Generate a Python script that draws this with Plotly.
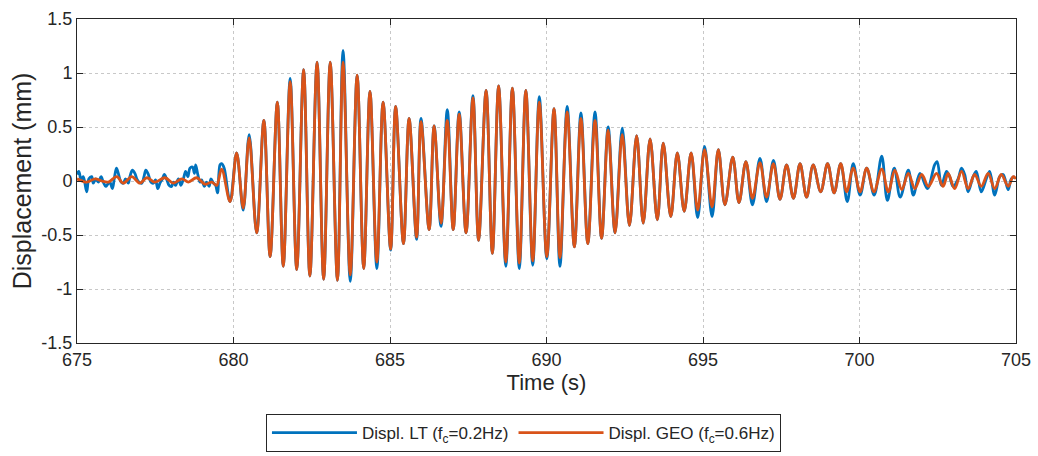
import plotly.graph_objects as go

# ---- Data (time in s, displacement in mm) ----
time_lt = [
    675.00, 675.06, 675.13, 675.20, 675.31, 675.38, 675.47, 675.52, 675.60, 675.68,
    675.77, 675.84, 675.92, 675.98, 676.05, 676.13, 676.19, 676.26, 676.32, 676.41,
    676.48, 676.55, 676.64, 676.69, 676.77, 676.85, 676.91, 676.98, 677.07, 677.14,
    677.20, 677.28, 677.36, 677.44, 677.51, 677.58, 677.65, 677.73, 677.79, 677.86,
    677.94, 678.02, 678.08, 678.15, 678.24, 678.32, 678.40, 678.47, 678.54, 678.61,
    678.69, 678.75, 678.79, 678.86, 678.93, 678.98, 679.07, 679.14, 679.22, 679.28,
    679.36, 679.43, 679.49, 679.57, 679.62, 679.70, 679.89, 680.10, 680.31, 680.50,
    680.74, 680.97, 681.17, 681.40, 681.59, 681.81, 682.02, 682.24, 682.44, 682.67,
    682.88, 683.09, 683.32, 683.50, 683.73, 683.95, 684.16, 684.36, 684.58, 684.78,
    685.02, 685.18, 685.43, 685.61, 685.85, 685.99, 686.25, 686.41, 686.63, 686.83,
    687.02, 687.21, 687.43, 687.65, 687.83, 688.07, 688.27, 688.47, 688.70, 688.91,
    689.13, 689.34, 689.56, 689.77, 690.01, 690.24, 690.43, 690.66, 690.89, 691.10,
    691.32, 691.55, 691.76, 691.97, 692.19, 692.42, 692.65, 692.88, 693.09, 693.31,
    693.54, 693.73, 693.97, 694.18, 694.40, 694.62, 694.83, 695.05, 695.29, 695.49,
    695.70, 695.95, 696.15, 696.37, 696.58, 696.82, 697.03, 697.25, 697.46, 697.67,
    697.89, 698.10, 698.31, 698.52, 698.76, 698.98, 699.19, 699.40, 699.61, 699.80,
    700.02, 700.23, 700.47, 700.71, 700.89, 701.11, 701.30, 701.56, 701.72, 701.93,
    702.17, 702.40, 702.48, 702.62, 702.78, 702.88, 702.99, 703.15, 703.26, 703.36,
    703.47, 703.63, 703.73, 703.89, 704.05, 704.16, 704.32, 704.48, 704.59, 704.75,
    704.85, 704.96,
]
displ_lt = [
    0.06, 0.09, 0.01, 0.04, -0.10, 0.02, 0.04, -0.02, 0.02, -0.01,
    0.04, -0.01, -0.05, -0.03, -0.01, -0.07, 0.02, 0.12, 0.07, -0.01,
    -0.02, 0.02, -0.02, 0.04, 0.10, 0.07, 0.02, -0.01, -0.02, 0.04,
    0.10, 0.06, -0.01, -0.02, 0.01, -0.07, -0.02, 0.02, 0.06, 0.02,
    -0.04, -0.05, -0.01, -0.04, 0.02, -0.04, 0.02, 0.09, 0.04, 0.12,
    0.13, 0.07, 0.15, 0.06, -0.01, 0.01, -0.05, -0.01, -0.05, 0.02,
    -0.02, -0.04, -0.11, 0.15, 0.16, 0.12, -0.19, 0.26, -0.27, 0.43,
    -0.48, 0.56, -0.70, 0.73, -0.79, 0.95, -0.82, 1.03, -0.88, 1.10,
    -0.91, 1.10, -0.92, 1.21, -0.93, 0.98, -0.81, 0.83, -0.81, 0.73,
    -0.64, 0.69, -0.58, 0.58, -0.54, 0.58, -0.45, 0.51, -0.42, 0.66,
    -0.45, 0.64, -0.48, 0.79, -0.55, 0.84, -0.67, 0.88, -0.79, 0.86,
    -0.81, 0.84, -0.78, 0.78, -0.72, 0.67, -0.79, 0.69, -0.61, 0.63,
    -0.58, 0.64, -0.53, 0.50, -0.48, 0.49, -0.41, 0.42, -0.39, 0.39,
    -0.36, 0.35, -0.33, 0.26, -0.28, 0.26, -0.34, 0.32, -0.33, 0.29,
    -0.22, 0.22, -0.20, 0.18, -0.22, 0.21, -0.19, 0.19, -0.17, 0.15,
    -0.16, 0.16, -0.15, 0.15, -0.10, 0.16, -0.11, 0.16, -0.19, 0.16,
    -0.13, 0.12, -0.13, 0.23, -0.18, 0.12, -0.15, 0.10, -0.13, 0.07,
    -0.07, 0.15, 0.18, -0.04, 0.09, 0.04, -0.05, 0.02, 0.12, 0.06,
    -0.10, 0.04, 0.09, -0.10, 0.02, 0.09, -0.13, 0.04, 0.06, -0.08,
    0.02, 0.04,
]

time_geo = [
    675.00, 675.31, 675.58, 675.79, 676.00, 676.27, 676.48, 676.75, 677.01, 677.23,
    677.49, 677.81, 678.08, 678.35, 678.56, 678.82, 679.09, 679.31, 679.46, 679.62,
    679.89, 680.10, 680.31, 680.50, 680.74, 680.97, 681.17, 681.40, 681.59, 681.81,
    682.02, 682.24, 682.44, 682.67, 682.88, 683.09, 683.32, 683.50, 683.73, 683.95,
    684.16, 684.36, 684.58, 684.78, 685.02, 685.18, 685.43, 685.61, 685.85, 685.99,
    686.25, 686.41, 686.63, 686.83, 687.02, 687.21, 687.43, 687.65, 687.83, 688.07,
    688.27, 688.47, 688.70, 688.91, 689.13, 689.34, 689.56, 689.77, 690.01, 690.24,
    690.43, 690.66, 690.89, 691.10, 691.32, 691.55, 691.76, 691.97, 692.19, 692.42,
    692.65, 692.88, 693.09, 693.31, 693.54, 693.73, 693.97, 694.18, 694.40, 694.62,
    694.83, 695.05, 695.29, 695.49, 695.70, 695.95, 696.15, 696.37, 696.58, 696.82,
    697.03, 697.25, 697.46, 697.67, 697.89, 698.10, 698.31, 698.52, 698.76, 698.98,
    699.19, 699.40, 699.59, 699.80, 700.02, 700.23, 700.46, 700.71, 700.92, 701.13,
    701.35, 701.56, 701.77, 701.99, 702.20, 702.46, 702.67, 702.83, 703.04, 703.26,
    703.47, 703.68, 703.89, 704.11, 704.32, 704.53, 704.75, 704.91, 705.00,
]
displ_geo = [
    0.02, -0.01, 0.02, 0.00, -0.01, 0.04, -0.02, 0.04, -0.02, 0.03,
    -0.01, 0.03, -0.02, 0.02, -0.01, 0.03, -0.03, -0.01, -0.04, 0.11,
    -0.19, 0.26, -0.25, 0.40, -0.48, 0.56, -0.70, 0.73, -0.79, 0.92,
    -0.82, 1.03, -0.88, 1.10, -0.91, 1.10, -0.92, 1.10, -0.87, 0.98,
    -0.81, 0.83, -0.75, 0.73, -0.63, 0.69, -0.58, 0.58, -0.52, 0.55,
    -0.45, 0.51, -0.39, 0.56, -0.45, 0.62, -0.48, 0.77, -0.55, 0.84,
    -0.67, 0.88, -0.75, 0.86, -0.76, 0.84, -0.74, 0.73, -0.70, 0.67,
    -0.71, 0.64, -0.61, 0.58, -0.58, 0.56, -0.53, 0.47, -0.48, 0.43,
    -0.41, 0.42, -0.39, 0.39, -0.36, 0.35, -0.33, 0.26, -0.28, 0.26,
    -0.27, 0.29, -0.24, 0.29, -0.22, 0.22, -0.20, 0.18, -0.16, 0.17,
    -0.15, 0.16, -0.17, 0.15, -0.16, 0.16, -0.15, 0.15, -0.10, 0.16,
    -0.11, 0.16, -0.10, 0.12, -0.10, 0.12, -0.10, 0.11, -0.10, 0.10,
    -0.08, 0.07, -0.07, 0.06, -0.05, 0.07, -0.05, 0.07, -0.07, 0.09,
    -0.07, 0.06, -0.05, 0.07, -0.07, 0.06, -0.05, 0.04, 0.02,
]

x_ticks = [675, 680, 685, 690, 695, 700, 705]
y_ticks = [-1.5, -1, -0.5, 0, 0.5, 1, 1.5]
y_tick_labels = ["-1.5", "-1", "-0.5", "0", "0.5", "1", "1.5"]

name_lt = "Displ. LT (f<sub>c</sub>=0.2Hz)"
name_geo = "Displ. GEO (f<sub>c</sub>=0.6Hz)"

BLUE = "#0072BD"
ORANGE = "#D95319"
FONT = "Liberation Sans, Arial, sans-serif"
TXT = "#262626"

fig = go.Figure()
fig.add_trace(go.Scatter(x=time_lt, y=displ_lt, mode="lines", name=name_lt,
                         line=dict(color=BLUE, width=2.8, shape="spline", smoothing=1.0)))
fig.add_trace(go.Scatter(x=time_geo, y=displ_geo, mode="lines", name=name_geo,
                         line=dict(color=ORANGE, width=2.8, shape="spline", smoothing=1.0)))

axis_common = dict(
    showline=True, linecolor=TXT, linewidth=1, mirror="allticks",
    ticks="inside", ticklen=6, tickcolor=TXT,
    showgrid=True, gridcolor="#c8c8c8", griddash="3px,3px", gridwidth=1,
    zeroline=False, tickfont=dict(family=FONT, size=18, color=TXT),
)

fig.update_xaxes(range=[675, 705], tickvals=x_ticks,
                 title=dict(text="Time (s)", font=dict(family=FONT, size=22, color=TXT), standoff=4),
                 **axis_common)
fig.update_yaxes(range=[-1.5, 1.5], tickvals=y_ticks, ticktext=y_tick_labels,
                 title=dict(text="Displacement (mm)", font=dict(family=FONT, size=25, color=TXT), standoff=2),
                 **axis_common)

fig.update_layout(
    width=1038, height=456,
    margin=dict(l=77, r=22, t=19, b=113, autoexpand=False),
    paper_bgcolor="white", plot_bgcolor="white",
    font=dict(family=FONT, color=TXT),
    showlegend=True,
    legend=dict(orientation="h", xref="container", yref="container",
                x=0.5043, xanchor="center", y=1 - 414 / 456, yanchor="top",
                bordercolor=TXT, borderwidth=1, bgcolor="white",
                font=dict(family=FONT, size=17, color=TXT),
                itemwidth=85, tracegroupgap=0),
)

fig.write_html("out.html")
